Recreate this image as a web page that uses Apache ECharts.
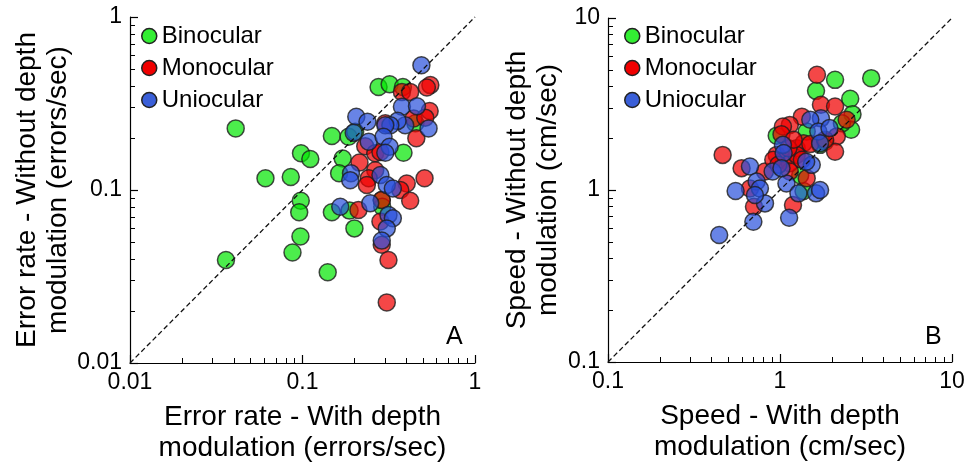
<!DOCTYPE html>
<html>
<head>
<meta charset="utf-8">
<script src="https://cdn.jsdelivr.net/npm/echarts@6/dist/echarts.min.js"></script>
<style>
  html, body { margin: 0; padding: 0; background: #fff; }
  #chart { width: 969px; height: 466px; }
</style>
</head>
<body>
<div id="chart"></div>
<script>
// panel A: error rate [with depth, without depth]
var errBinocular = [[0.041,0.227],[0.036,0.0394],[0.061,0.117],[0.0855,0.119],[0.098,0.163],[0.111,0.151],[0.0977,0.0867],[0.0957,0.0743],[0.0973,0.0538],[0.0875,0.0435],[0.14,0.0335],[0.148,0.205],[0.171,0.152],[0.163,0.125],[0.148,0.0743],[0.1875,0.076],[0.2,0.06],[0.185,0.203],[0.202,0.217],[0.276,0.394],[0.32,0.409],[0.382,0.394],[0.385,0.164],[0.451,0.243],[0.288,0.0876],[0.29,0.08]];
var errMonocular = [[0.551,0.404],[0.526,0.391],[0.377,0.369],[0.421,0.369],[0.546,0.286],[0.441,0.259],[0.515,0.262],[0.457,0.199],[0.302,0.243],[0.231,0.179],[0.264,0.163],[0.283,0.166],[0.214,0.144],[0.264,0.13],[0.242,0.117],[0.236,0.107],[0.402,0.109],[0.51,0.117],[0.369,0.1],[0.421,0.0867],[0.211,0.0767],[0.288,0.0875],[0.283,0.0657],[0.288,0.0482],[0.315,0.0394],[0.308,0.0224]];
var errUniocular = [[0.489,0.526],[0.377,0.303],[0.461,0.305],[0.538,0.227],[0.394,0.237],[0.356,0.251],[0.323,0.237],[0.302,0.237],[0.205,0.265],[0.238,0.248],[0.198,0.214],[0.242,0.19],[0.295,0.203],[0.32,0.178],[0.302,0.164],[0.191,0.125],[0.189,0.114],[0.283,0.122],[0.308,0.107],[0.334,0.102],[0.1655,0.08],[0.247,0.0838],[0.315,0.0718],[0.334,0.0687],[0.308,0.06],[0.288,0.051]];

// panel B: speed [with depth, without depth]
var spdBinocular = [[3.39,4.47],[2.09,4.37],[1.62,3.77],[2.56,3.39],[2.64,2.76],[2.59,2.24],[2.29,2.44],[0.957,2.07],[1.43,2.19],[1.37,0.987],[1.31,1.22],[1.71,1.83],[1.83,1.91]];
var spdMonocular = [[1.64,4.68],[1.73,3.13],[2.09,3.06],[1.34,2.67],[2.44,2.56],[1.14,2.39],[1.04,2.34],[1.02,2.11],[2.14,2.05],[2.09,1.67],[0.464,1.6],[0.598,1.34],[0.818,1.28],[0.669,1.02],[0.706,0.8],[1.19,0.818],[1.43,1.17],[0.957,1.6],[1.05,1.5],[1.14,1.43],[1.25,1.75],[1.37,1.87],[1.5,1.85],[1.25,1.6],[1.12,1.75],[0.914,1.5],[1.14,1.28],[1.34,1.5],[0.978,1.4],[1.83,1.96],[1.2,1.96]];
var spdUniocular = [[0.443,0.547],[0.7,0.654],[1.13,0.69],[0.552,0.987],[0.669,1.37],[0.731,1.12],[0.764,1.02],[0.818,0.836],[0.715,0.935],[0.906,1.28],[1.09,1.09],[1.28,0.956],[1.62,0.956],[1.71,1.0],[1.53,1.4],[1.42,1.46],[1.04,1.83],[1.05,1.64],[1.73,2.61],[1.5,2.56],[1.67,2.19],[1.94,2.29],[1.71,1.87],[1.02,1.34]];

// identity lines (x = y) across each panel
var errDiagonal = [[0.01, 0.01], [1, 1]];
var spdDiagonal = [[0.1, 0.1], [10, 10]];

var groupNames = ['Binocular', 'Monocular', 'Uniocular'];
var fills = ['rgba(0,230,0,0.7)', 'rgba(240,0,0,0.72)', 'rgba(40,80,220,0.7)'];
var solid = ['#33ee33', '#f00000', '#3a5fd8'];

var font = "'Liberation Sans', Arial, sans-serif";

var myChart = echarts.init(document.getElementById('chart'));

function logAxis(grid, min, max, name, isY, gap) {
    return {
        type: 'log', gridIndex: grid, min: min, max: max,
        name: name, nameLocation: 'middle', nameGap: gap,
        nameRotate: isY ? 90 : 0,
        nameTextStyle: { fontFamily: font, fontSize: 28, color: '#000', lineHeight: 31 },
        axisLine: { show: true, lineStyle: { color: '#000', width: 1.2 } },
        axisTick: { show: true, inside: true, length: 8, lineStyle: { color: '#000', width: 1.2 } },
        minorTick: { show: true, splitNumber: 9, length: 5, lineStyle: { color: '#000', width: 1 } },
        axisLabel: { fontFamily: font, fontSize: 23, color: '#000', margin: 8 },
        splitLine: { show: false }
    };
}

function dots(name, data, k, ax, diag) {
    var s = {
        name: name, type: 'scatter', xAxisIndex: ax, yAxisIndex: ax,
        data: data, symbolSize: 17,
        itemStyle: { color: fills[k], borderColor: 'rgba(30,30,30,0.8)', borderWidth: 1.5, opacity: 1 }
    };
    if (diag) {
        s.markLine = {
            silent: true, symbol: ['none', 'none'], label: { show: false },
            lineStyle: { color: '#111', width: 1.3, type: [5, 3] },
            emphasis: { disabled: true },
            data: [[{ coord: diag[0] }, { coord: diag[1] }]]
        };
    }
    return s;
}

function legendFor(left) {
    return {
        orient: 'vertical', left: left, top: 24, padding: 0, itemGap: 8,
        icon: 'circle', itemWidth: 15, itemHeight: 15,
        textStyle: { fontFamily: font, fontSize: 24, color: '#000', lineHeight: 24 },
        data: groupNames.map(function (n, i) {
            return { name: n, itemStyle: { color: solid[i], borderColor: '#222', borderWidth: 1.5, opacity: 1 } };
        })
    };
}

var option = {
    animation: false,
    title: [
        { text: 'A', left: 446, top: 325, padding: 0, textStyle: { fontFamily: font, fontSize: 25, fontWeight: 'normal', color: '#000' } },
        { text: 'B', left: 925, top: 325, padding: 0, textStyle: { fontFamily: font, fontSize: 25, fontWeight: 'normal', color: '#000' } }
    ],
    legend: [legendFor(141), legendFor(624)],
    grid: [
        { left: 130, top: 17, width: 345, height: 346, outerBoundsMode: 'none' },
        { left: 608, top: 18, width: 344, height: 344, outerBoundsMode: 'none' }
    ],
    xAxis: [
        logAxis(0, 0.01, 1, 'Error rate - With depth\nmodulation (errors/sec)', false, 39),
        logAxis(1, 0.1, 10, 'Speed - With depth\nmodulation (cm/sec)', false, 39)
    ],
    yAxis: [
        logAxis(0, 0.01, 1, 'Error rate - Without depth\nmodulation (errors/sec)', true, 56),
        logAxis(1, 0.1, 10, 'Speed - Without depth\nmodulation (cm/sec)', true, 44)
    ],
    series: [
        dots('Binocular', errBinocular, 0, 0),
        dots('Monocular', errMonocular, 1, 0),
        dots('Uniocular', errUniocular, 2, 0, errDiagonal),
        dots('Binocular', spdBinocular, 0, 1),
        dots('Monocular', spdMonocular, 1, 1),
        dots('Uniocular', spdUniocular, 2, 1, spdDiagonal)
    ]
};

myChart.setOption(option);
window.addEventListener("resize", function () {
    myChart.resize();
});
</script>
</body>
</html>
